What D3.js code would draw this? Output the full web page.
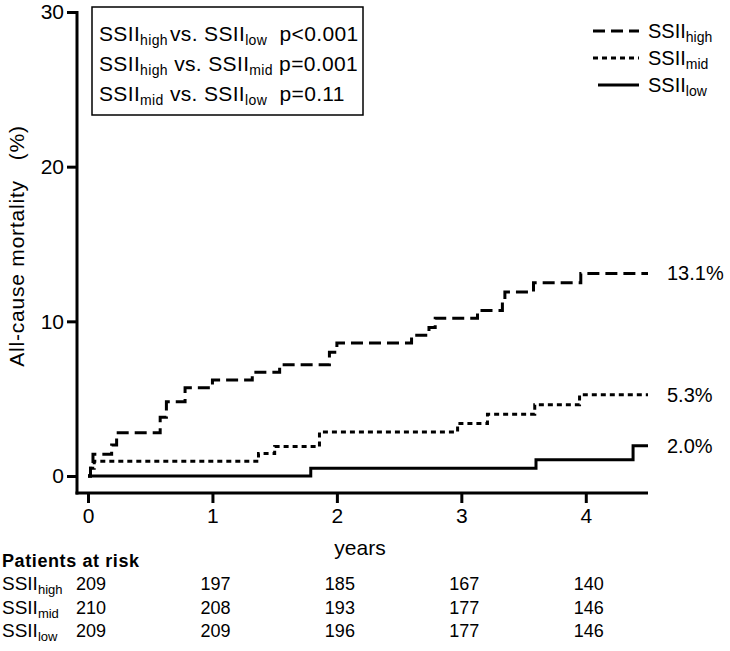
<!DOCTYPE html>
<html><head><meta charset="utf-8">
<script src="https://cdn.jsdelivr.net/npm/d3@7"></script>
<style>body{margin:0;background:#fff}svg{display:block}text{font-family:"Liberation Sans",Arial,sans-serif;fill:#000}</style>
</head><body><svg id="c" width="730" height="651"></svg>
<script>
const yTicks = [0, 10, 20, 30];
const xTicks = [0, 1, 2, 3, 4];
const highT = [0, 0.02, 0.04, 0.19, 0.23, 0.58, 0.63, 0.78, 1.0, 1.32, 1.54, 1.94, 2.0, 2.6, 2.74, 2.79, 3.13, 3.33, 3.35, 3.58, 3.96, 4.5];
const highV = [0, 0.5, 1.4, 2.0, 2.8, 3.8, 4.8, 5.7, 6.2, 6.7, 7.2, 8.0, 8.6, 9.1, 9.6, 10.2, 10.7, 11.3, 11.9, 12.5, 13.1, 13.1];
const midT = [0, 0.02, 0.05, 1.37, 1.5, 1.86, 2.97, 3.21, 3.59, 3.95, 4.5];
const midV = [0, 0.5, 0.95, 1.45, 1.9, 2.85, 3.4, 4.0, 4.6, 5.25, 5.25];
const lowT = [0, 1.79, 3.6, 4.38, 4.5];
const lowV = [0, 0.5, 1.05, 1.95, 1.95];
const endLabels = ["13.1%", "5.3%", "2.0%"];
const riskHigh = [209, 197, 185, 167, 140];
const riskMid = [210, 208, 193, 177, 146];
const riskLow = [209, 209, 196, 177, 146];
const groupSubs = ["high", "mid", "low"];
const pTests = [["high", "low", "p<0.001"], ["high", "mid", "p=0.001"], ["mid", "low", "p=0.11"]];

const svg = d3.select("#c");
const x = d3.scaleLinear().domain([0, 4.5]).range([88, 648]);
const y = d3.scaleLinear().domain([0, 30]).range([476, 12]);

// axes
const yAx = svg.append("g").attr("transform", "translate(77,0)")
  .call(d3.axisLeft(y).tickValues(yTicks).tickFormat(d3.format("d")).tickSize(10).tickPadding(3).tickSizeOuter(0));
yAx.select(".domain").remove();
yAx.selectAll("line").attr("stroke-width", 3);
yAx.selectAll("text").attr("font-size", 21).attr("font-family", "Liberation Sans, Arial").attr("fill", "#000");
svg.append("line").attr("x1", 77).attr("x2", 77).attr("y1", y(30) - 1).attr("y2", 494.5).attr("stroke", "#000").attr("stroke-width", 3);

const xAx = svg.append("g").attr("transform", "translate(0,493)")
  .call(d3.axisBottom(x).tickValues(xTicks).tickFormat(d3.format("d")).tickSize(10).tickPadding(5).tickSizeOuter(0));
xAx.select(".domain").remove();
xAx.selectAll("line").attr("stroke-width", 3);
xAx.selectAll("text").attr("font-size", 21).attr("font-family", "Liberation Sans, Arial").attr("fill", "#000");
svg.append("line").attr("x1", 75.5).attr("x2", 648).attr("y1", 493).attr("y2", 493).attr("stroke", "#000").attr("stroke-width", 3);

svg.append("text").attr("transform", "translate(24,246) rotate(-90)").attr("text-anchor", "middle")
  .attr("font-size", 21).attr("letter-spacing", 0.8).attr("xml:space", "preserve").text("All-cause mortality   (%)");
svg.append("text").attr("x", 360).attr("y", 555).attr("text-anchor", "middle").attr("font-size", 21).text("years");

// curves
const line = d3.line().x(d => x(d[0])).y(d => y(d[1])).curve(d3.curveStepAfter);
const series = [
  {t: highT, v: highV, dash: "12,6"},
  {t: midT, v: midV, dash: "5,4"},
  {t: lowT, v: lowV, dash: null}
];
series.forEach((s, i) => {
  const pts = s.t.map((t, j) => [t, s.v[j]]);
  svg.append("path").attr("d", line(pts)).attr("fill", "none").attr("stroke", "#000")
    .attr("stroke-width", 3).attr("stroke-dasharray", s.dash);
  svg.append("text").attr("x", 667).attr("y", y(s.v[s.v.length - 1]) + 7).attr("font-size", 20).text(endLabels[i]);
});

// legend top-right
const lg = [31, 58, 85];
series.forEach((s, i) => {
  svg.append("line").attr("x1", i === 2 ? 598 : 593).attr("x2", 639).attr("y1", lg[i]).attr("y2", lg[i])
    .attr("stroke", "#000").attr("stroke-width", 3).attr("stroke-dasharray", s.dash);
  const t = svg.append("text").attr("x", 648).attr("y", lg[i] + 7).attr("font-size", 20);
  t.append("tspan").text("SSII");
  t.append("tspan").attr("font-size", 14).attr("dy", 4).text(groupSubs[i]);
});

// p-value box
svg.append("rect").attr("x", 92).attr("y", 7).attr("width", 271).attr("height", 108)
  .attr("fill", "#fff").attr("stroke", "#000").attr("stroke-width", 1.5);
pTests.forEach((p, i) => {
  const by = 41 + i * 30;
  const t = svg.append("text").attr("x", 99).attr("y", by).attr("font-size", 21)
    .attr("letter-spacing", 0.35).attr("xml:space", "preserve");
  t.append("tspan").text("SSII");
  t.append("tspan").attr("font-size", 14).attr("dy", 4).text(p[0]);
  t.append("tspan").attr("dy", -4).attr("dx", i === 0 ? 2 : 0).text(i === 0 ? "vs. " : " vs. ");
  t.append("tspan").text("SSII");
  t.append("tspan").attr("font-size", 14).attr("dy", 4).text(p[1]);
  t.append("tspan").attr("dy", -4).text(i === 1 ? " " + p[2] : "  " + p[2]);
});

// risk table
svg.append("text").attr("x", 2).attr("y", 567).attr("font-size", 18).attr("font-weight", "bold")
  .attr("letter-spacing", 0.6).text("Patients at risk");
const rows = [riskHigh, riskMid, riskLow];
rows.forEach((r, i) => {
  const by = 590 + i * 23.5;
  const t = svg.append("text").attr("x", 2).attr("y", by).attr("font-size", 19);
  t.append("tspan").text("SSII");
  t.append("tspan").attr("font-size", 13).attr("dy", 4).text(groupSubs[i]);
  r.forEach((n, j) => {
    svg.append("text").attr("x", x(xTicks[j]) + 3).attr("y", by)
      .attr("text-anchor", "middle").attr("font-size", 18).text(n);
  });
});
</script></body></html>
